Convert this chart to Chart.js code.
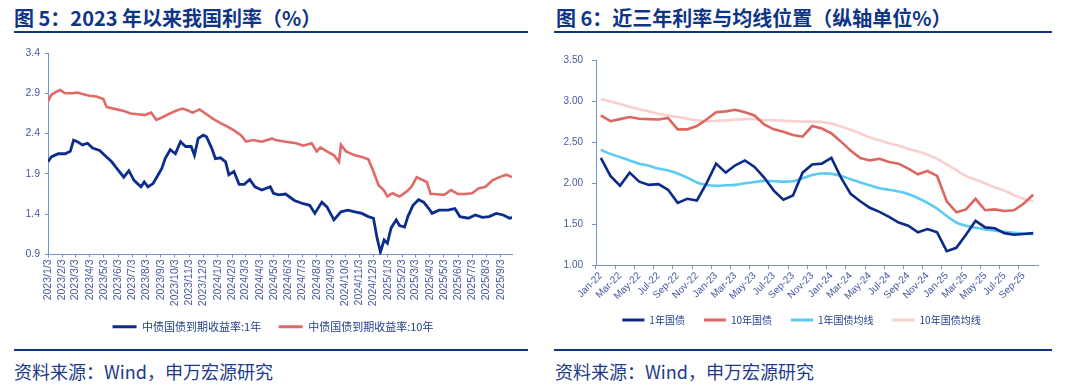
<!DOCTYPE html>
<html><head><meta charset="utf-8">
<script src="https://cdn.jsdelivr.net/npm/chart.js@4.4.1/dist/chart.umd.min.js"></script>
<style>
html,body{margin:0;padding:0;background:#fff;}
body{width:1080px;height:388px;position:relative;overflow:hidden;font-family:"Noto Sans CJK SC","Liberation Sans",sans-serif;}
.title{position:absolute;top:5px;font-size:20px;font-weight:bold;color:#0f3586;white-space:nowrap;line-height:26px;}
.rule{position:absolute;height:2px;background:#0f3586;}
.foot{position:absolute;top:358px;font-size:18px;color:#1c3a8a;white-space:nowrap;line-height:26px;}
canvas{position:absolute;}
</style></head>
<body>
<div class="title" style="left:14px;">图 5：2023 年以来我国利率（%）</div>
<div class="title" style="left:556px;">图 6：近三年利率与均线位置（纵轴单位%）</div>
<div class="rule" style="left:14px;width:514px;top:31px;"></div>
<div class="rule" style="left:554px;width:498px;top:31px;"></div>
<canvas id="c1" width="540" height="309" style="left:0;top:40px;"></canvas>
<canvas id="c2" width="535" height="304" style="left:545px;top:40px;"></canvas>
<div class="rule" style="left:14px;width:514px;top:349px;"></div>
<div class="rule" style="left:554px;width:498px;top:349px;"></div>
<div class="foot" style="left:14px;">资料来源：Wind，申万宏源研究</div>
<div class="foot" style="left:555px;">资料来源：Wind，申万宏源研究</div>
<script>
// ---------- Chart 1 data (图5) ----------
const tickLabels1 = ['2023/1/3','2023/2/3','2023/3/3','2023/4/3','2023/5/3','2023/6/3','2023/7/3','2023/8/3','2023/9/3','2023/10/3','2023/11/3','2023/12/3',
 '2024/1/3','2024/2/3','2024/3/3','2024/4/3','2024/5/3','2024/6/3','2024/7/3','2024/8/3','2024/9/3','2024/10/3','2024/11/3','2024/12/3',
 '2025/1/3','2025/2/3','2025/3/3','2025/4/3','2025/5/3','2025/6/3','2025/7/3','2025/8/3','2025/9/3'];
const dates10y = ['2023/1/3','2023/1/10','2023/1/21','2023/1/29','2023/2/9','2023/2/24','2023/3/7','2023/3/18','2023/4/2','2023/4/17','2023/5/2','2023/5/9','2023/5/24','2023/6/15','2023/6/30','2023/7/15','2023/7/30','2023/8/13','2023/8/24','2023/9/5','2023/9/19','2023/10/4','2023/10/19','2023/10/30','2023/11/10','2023/11/25','2023/12/10','2023/12/25','2024/1/9','2024/1/23','2024/2/7','2024/2/22','2024/3/4','2024/3/19','2024/4/7','2024/4/29','2024/5/6','2024/5/28','2024/6/20','2024/7/5','2024/7/23','2024/8/3','2024/8/11','2024/8/25','2024/9/9','2024/9/20','2024/9/24','2024/10/5','2024/10/24','2024/11/8','2024/11/22','2024/12/3','2024/12/14','2024/12/25','2025/1/2','2025/1/13','2025/1/28','2025/2/12','2025/2/23','2025/3/6','2025/3/13','2025/3/28','2025/4/5','2025/4/12','2025/5/4','2025/5/19','2025/6/3','2025/6/18','2025/7/3','2025/7/17','2025/8/1','2025/8/16','2025/8/31','2025/9/15','2025/9/27'];
const yield10y = [2.80,2.88,2.92,2.94,2.90,2.90,2.91,2.89,2.87,2.86,2.83,2.73,2.71,2.68,2.65,2.64,2.63,2.66,2.57,2.60,2.64,2.68,2.71,2.69,2.66,2.70,2.64,2.58,2.53,2.49,2.44,2.38,2.30,2.32,2.30,2.34,2.32,2.30,2.28,2.25,2.28,2.18,2.23,2.18,2.13,2.05,2.26,2.18,2.13,2.11,2.08,1.93,1.76,1.70,1.62,1.66,1.62,1.68,1.74,1.86,1.84,1.80,1.65,1.65,1.64,1.70,1.65,1.65,1.66,1.72,1.74,1.82,1.86,1.89,1.86];
const dates1y = ['2023/1/3','2023/1/10','2023/1/25','2023/2/9','2023/2/20','2023/2/27','2023/3/7','2023/3/18','2023/3/29','2023/4/9','2023/4/24','2023/5/9','2023/5/20','2023/5/31','2023/6/15','2023/6/26','2023/7/7','2023/7/22','2023/7/29','2023/8/6','2023/8/17','2023/8/28','2023/9/5','2023/9/12','2023/9/23','2023/10/4','2023/10/15','2023/10/26','2023/11/7','2023/11/14','2023/11/22','2023/12/3','2023/12/10','2023/12/21','2023/12/29','2024/1/9','2024/1/20','2024/1/27','2024/2/7','2024/2/18','2024/2/29','2024/3/12','2024/3/23','2024/4/7','2024/4/25','2024/5/2','2024/5/13','2024/5/28','2024/6/16','2024/7/5','2024/7/19','2024/7/30','2024/8/14','2024/8/25','2024/9/9','2024/9/24','2024/10/9','2024/10/24','2024/11/8','2024/11/22','2024/12/3','2024/12/11','2024/12/18','2024/12/26','2025/1/2','2025/1/10','2025/1/21','2025/1/28','2025/2/8','2025/2/15','2025/2/26','2025/3/10','2025/3/21','2025/4/1','2025/4/8','2025/4/23','2025/5/12','2025/5/27','2025/6/7','2025/6/25','2025/7/10','2025/7/25','2025/8/9','2025/8/24','2025/9/8','2025/9/22','2025/9/27'];
const yield1y = [2.05,2.11,2.15,2.15,2.18,2.32,2.30,2.26,2.28,2.22,2.19,2.11,2.05,1.97,1.86,1.94,1.82,1.74,1.80,1.74,1.78,1.89,1.97,2.09,2.20,2.15,2.30,2.24,2.24,2.13,2.34,2.38,2.36,2.22,2.09,2.10,2.05,1.89,1.93,1.77,1.77,1.83,1.74,1.70,1.74,1.66,1.64,1.65,1.57,1.53,1.51,1.41,1.55,1.49,1.33,1.43,1.45,1.43,1.41,1.37,1.35,1.10,0.93,1.08,1.04,1.23,1.33,1.26,1.24,1.37,1.51,1.58,1.55,1.47,1.41,1.45,1.45,1.47,1.37,1.35,1.39,1.36,1.37,1.41,1.39,1.35,1.36];
const seriesNames1 = ['中债国债到期收益率:1年','中债国债到期收益率:10年'];

// ---------- Chart 2 data (图6) ----------
const months2 = ['Jan-22','Feb-22','Mar-22','Apr-22','May-22','Jun-22','Jul-22','Aug-22','Sep-22','Oct-22','Nov-22','Dec-22',
 'Jan-23','Feb-23','Mar-23','Apr-23','May-23','Jun-23','Jul-23','Aug-23','Sep-23','Oct-23','Nov-23','Dec-23',
 'Jan-24','Feb-24','Mar-24','Apr-24','May-24','Jun-24','Jul-24','Aug-24','Sep-24','Oct-24','Nov-24','Dec-24',
 'Jan-25','Feb-25','Mar-25','Apr-25','May-25','Jun-25','Jul-25','Aug-25','Sep-25','Oct-25'];
const bond1y = [2.31,2.09,1.97,2.13,2.02,1.98,1.99,1.92,1.76,1.81,1.79,2.00,2.24,2.13,2.22,2.28,2.20,2.07,1.91,1.80,1.85,2.13,2.23,2.24,2.31,2.07,1.87,1.78,1.70,1.65,1.59,1.52,1.48,1.40,1.44,1.40,1.17,1.21,1.37,1.54,1.46,1.45,1.39,1.37,1.38,1.39];
const bond10y = [2.83,2.76,2.785,2.81,2.79,2.785,2.78,2.80,2.66,2.66,2.70,2.78,2.87,2.88,2.90,2.87,2.83,2.72,2.66,2.63,2.59,2.57,2.70,2.67,2.61,2.51,2.40,2.31,2.28,2.30,2.26,2.24,2.18,2.11,2.15,2.09,1.78,1.645,1.68,1.81,1.67,1.68,1.66,1.67,1.75,1.86];
const ma1y = [2.41,2.36,2.32,2.28,2.24,2.215,2.18,2.155,2.12,2.07,2.01,1.98,1.97,1.975,1.98,2.00,2.015,2.03,2.025,2.02,2.025,2.06,2.10,2.12,2.115,2.09,2.05,2.01,1.975,1.94,1.92,1.90,1.87,1.82,1.76,1.69,1.60,1.52,1.48,1.455,1.435,1.42,1.405,1.395,1.385,1.38];
const ma10y = [3.03,3.00,2.97,2.935,2.905,2.88,2.85,2.83,2.81,2.79,2.77,2.76,2.765,2.77,2.78,2.785,2.785,2.775,2.77,2.765,2.76,2.755,2.755,2.75,2.73,2.695,2.655,2.61,2.56,2.525,2.49,2.46,2.42,2.39,2.35,2.30,2.23,2.16,2.09,2.045,2.0,1.95,1.91,1.855,1.81,1.78];
const seriesNames2 = ['1年国债','10年国债','1年国债均线','10年国债均线'];

// ---------- helpers ----------
const AXIS = '#7393d3', TICK = '#4659a0', LEGTXT = '#24408e';
const NUMFONT = 'Liberation Sans, Arial, sans-serif';
const CJKFONT = '"Noto Sans CJK SC", "Liberation Sans", sans-serif';
const base = Date.UTC(2023, 0, 3);
const toDay = s => { const p = s.split('/').map(Number); return (Date.UTC(p[0], p[1]-1, p[2]) - base) / 864e5; };
const lineLegend = (bw, pad, fs) => ({
  boxWidth: bw, boxHeight: 3, padding: pad, color: LEGTXT,
  font: {family: CJKFONT, size: fs},
  generateLabels: (ch) => Chart.defaults.plugins.legend.labels.generateLabels(ch).map(l => Object.assign(l, {fillStyle: l.strokeStyle, lineWidth: 0}))
});
// nudges the legend row after layout
const legendShift = {
  id: 'legendShift',
  afterLayout(chart, args, opts) {
    const lg = chart.legend;
    if (!lg) return;
    lg.left += opts.dx || 0; lg.right += opts.dx || 0;
    lg.top += opts.dy || 0; lg.bottom += opts.dy || 0;
  }
};

// ---------- Chart 1 ----------
new Chart(document.getElementById('c1'), {
  type: 'line',
  plugins: [legendShift],
  data: {
    datasets: [
      {label: seriesNames1[0], data: dates1y.map((d, i) => ({x: toDay(d), y: yield1y[i]})), borderColor: '#0d2d8c', backgroundColor: '#0d2d8c', borderWidth: 2.8, pointRadius: 0, tension: 0},
      {label: seriesNames1[1], data: dates10y.map((d, i) => ({x: toDay(d), y: yield10y[i]})), borderColor: '#e06a66', backgroundColor: '#e06a66', borderWidth: 2.6, pointRadius: 0, tension: 0}
    ]
  },
  options: {
    responsive: false, animation: false, devicePixelRatio: 1,
    layout: {padding: {left: 0, right: 28, top: 13, bottom: 0}},
    plugins: {legend: {position: 'bottom', labels: lineLegend(24, 17.5, 11)}, tooltip: {enabled: false}, legendShift: {dx: 17, dy: -6.8}},
    scales: {
      x: {
        type: 'linear', min: 0, max: toDay('2025/9/27'),
        afterBuildTicks: s => { s.ticks = tickLabels1.map(l => ({value: toDay(l)})); },
        afterFit: s => { s.height = 56; },
        ticks: {autoSkip: false, minRotation: 90, maxRotation: 90, padding: 2, color: TICK, font: {family: NUMFONT, size: 10.5},
                callback: (v, i) => tickLabels1[i]},
        grid: {drawOnChartArea: false, tickLength: 3, color: AXIS},
        border: {color: AXIS, width: 1}
      },
      y: {
        min: 0.9, max: 3.4,
        afterFit: s => { s.width = 48; },
        ticks: {stepSize: 0.5, padding: 5, color: TICK, font: {family: NUMFONT, size: 10.5}, callback: v => v.toFixed(1)},
        grid: {drawOnChartArea: false, tickLength: 3, color: AXIS},
        border: {color: AXIS, width: 1}
      }
    }
  }
});

// ---------- Chart 2 ----------
new Chart(document.getElementById('c2'), {
  type: 'line',
  plugins: [legendShift],
  data: {
    labels: months2,
    datasets: [
      {label: seriesNames2[0], data: bond1y, borderColor: '#0b2b88', backgroundColor: '#0b2b88', borderWidth: 2.6, pointRadius: 0, tension: 0},
      {label: seriesNames2[1], data: bond10y, borderColor: '#dd6660', backgroundColor: '#dd6660', borderWidth: 2.6, pointRadius: 0, tension: 0},
      {label: seriesNames2[2], data: ma1y, borderColor: '#5ccbf2', backgroundColor: '#5ccbf2', borderWidth: 2.6, pointRadius: 0, tension: 0.3},
      {label: seriesNames2[3], data: ma10y, borderColor: '#f7d0cf', backgroundColor: '#f7d0cf', borderWidth: 2.6, pointRadius: 0, tension: 0.3}
    ]
  },
  options: {
    responsive: false, animation: false, devicePixelRatio: 1,
    layout: {padding: {left: 0, right: 42, top: 20.7, bottom: 0}},
    plugins: {legend: {position: 'bottom', labels: lineLegend(22, 19, 10)}, tooltip: {enabled: false}, legendShift: {dx: 10, dy: -9}},
    scales: {
      x: {
        type: 'category', offset: true,
        afterFit: s => { s.height = 40; },
        ticks: {autoSkip: false, minRotation: 45, maxRotation: 45, padding: 1, color: TICK, font: {family: NUMFONT, size: 10},
                callback: (v, i) => (i % 2 === 0 ? months2[i] : '')},
        grid: {offset: true, drawOnChartArea: false, tickLength: 4, color: ctx => (ctx.index % 2 === 0 ? AXIS : 'rgba(0,0,0,0)')},
        border: {color: AXIS, width: 1}
      },
      y: {
        min: 1, max: 3.5,
        afterFit: s => { s.width = 51; },
        ticks: {stepSize: 0.5, padding: 9, color: TICK, font: {family: NUMFONT, size: 10}, callback: v => v.toFixed(2)},
        grid: {drawOnChartArea: false, tickLength: 4, color: AXIS},
        border: {color: AXIS, width: 1}
      }
    }
  }
});
</script>
</body></html>
